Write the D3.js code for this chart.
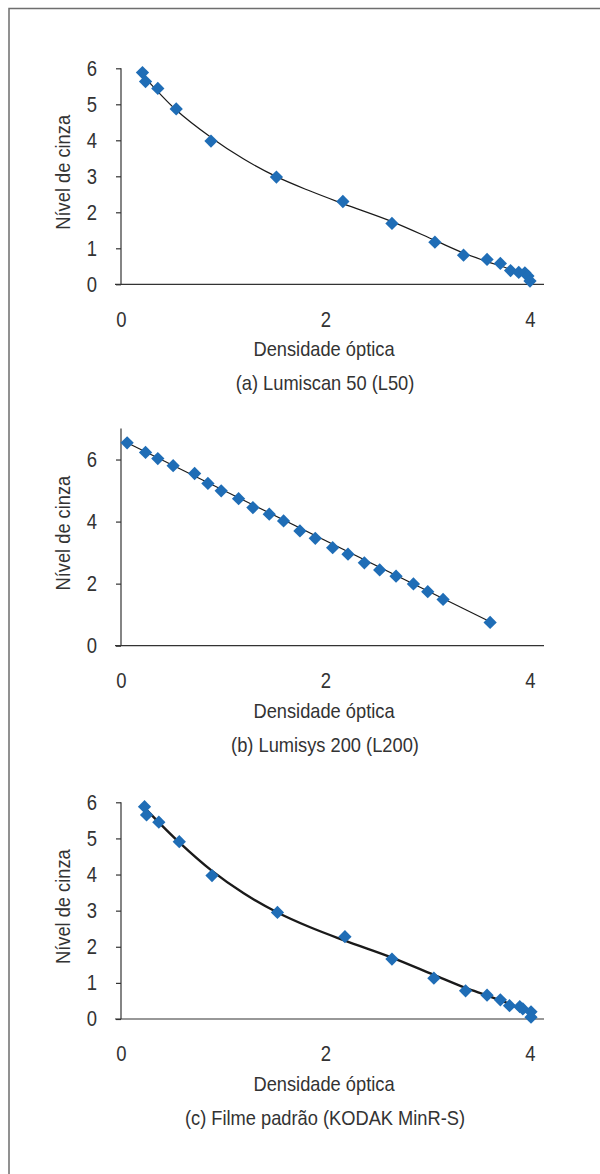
<!DOCTYPE html>
<html lang="pt">
<head>
<meta charset="UTF-8">
<title>Nível de cinza x Densidade óptica</title>
<script src="https://d3js.org/d3.v7.min.js"></script>
<style>
  body { margin: 0; background: #fff; }
  svg text { font-family: "Liberation Sans", Arial, sans-serif; fill: #333; }
  .tick text { font-size: 21.5px; }
  .titulo { font-size: 21px; }
</style>
</head>
<body>
<svg width="600" height="1174"></svg>
<script>
// (a) Lumiscan 50
const l50X = [0.21, 0.24, 0.36, 0.54, 0.88, 1.52, 2.17, 2.65, 3.07, 3.35, 3.58, 3.71, 3.81, 3.89, 3.95, 3.98, 4.0];
const l50Y = [5.88, 5.63, 5.44, 4.87, 3.98, 2.98, 2.30, 1.69, 1.17, 0.81, 0.69, 0.58, 0.38, 0.33, 0.32, 0.23, 0.09];
const l50FitX = [0.21, 0.54, 0.88, 1.2, 1.52, 1.85, 2.17, 2.65, 3.07, 3.35, 3.58, 3.8, 4.0];
const l50FitY = [5.82, 4.84, 4.08, 3.48, 2.99, 2.59, 2.24, 1.74, 1.22, 0.87, 0.63, 0.42, 0.16];

// (b) Lumisys 200
const l200X = [0.06, 0.24, 0.36, 0.51, 0.72, 0.85, 0.98, 1.15, 1.29, 1.45, 1.59, 1.75, 1.90, 2.07, 2.22, 2.38, 2.53, 2.69, 2.86, 3.00, 3.15, 3.61];
const l200Y = [6.54, 6.23, 6.03, 5.80, 5.55, 5.23, 4.99, 4.74, 4.45, 4.24, 4.02, 3.70, 3.46, 3.16, 2.95, 2.67, 2.44, 2.24, 1.99, 1.74, 1.49, 0.75];
const l200FitX = [0.06, 3.61];
const l200FitY = [6.54, 0.77];

// (c) Filme padrão
const minrX = [0.23, 0.25, 0.37, 0.57, 0.89, 1.53, 2.19, 2.65, 3.06, 3.37, 3.58, 3.71, 3.80, 3.90, 3.93, 4.01, 4.01];
const minrY = [5.88, 5.65, 5.45, 4.91, 3.97, 2.95, 2.28, 1.66, 1.13, 0.78, 0.66, 0.53, 0.37, 0.34, 0.28, 0.20, 0.05];
const minrFitX = [0.24, 0.57, 0.89, 1.2, 1.53, 1.85, 2.19, 2.65, 3.06, 3.37, 3.58, 3.8, 4.01];
const minrFitY = [5.82, 4.89, 4.10, 3.48, 2.95, 2.54, 2.17, 1.70, 1.22, 0.86, 0.65, 0.42, 0.15];

const xTicks = [0, 2, 4];

const paineis = [
  { xs: l50X, ys: l50Y, fx: l50FitX, fy: l50FitY, yMax: 6, yTicks: [0,1,2,3,4,5,6], top: 68.3, bottom: 284.3, lw: 1.2, legenda: "(a) Lumiscan 50 (L50)" },
  { xs: l200X, ys: l200Y, fx: l200FitX, fy: l200FitY, yMax: 7, yTicks: [0,2,4,6], top: 428.5, bottom: 645.7, lw: 1.2, legenda: "(b) Lumisys 200 (L200)" },
  { xs: minrX, ys: minrY, fx: minrFitX, fy: minrFitY, yMax: 6, yTicks: [0,1,2,3,4,5,6], top: 802.3, bottom: 1019, lw: 2.4, legenda: "(c) Filme padrão (KODAK MinR-S)" }
];

const svg = d3.select("svg");

// moldura (só topo e esquerda)
svg.append("path")
  .attr("d", "M9,1174 V8.5 H600")
  .attr("fill", "none")
  .attr("stroke", "#6e6e6e")
  .attr("stroke-width", 1.5);

const x = d3.scaleLinear().domain([0, 4]).range([121, 530]);
const marcador = d3.symbol().type(d3.symbolSquare).size(88);

// fonte estreita: comprime o texto na horizontal
function estreita(sel, k) {
  sel.each(function () {
    const t = d3.select(this);
    const tx = +t.attr("x") || 0, ty = +t.attr("y") || 0;
    const base = t.attr("transform") || "";
    t.attr("x", null).attr("y", null)
      .attr("transform", `${base} translate(${tx},${ty}) scale(${k},1)`);
  });
}

paineis.forEach(function (p) {
  const y = d3.scaleLinear().domain([0, p.yMax]).range([p.bottom, p.top]);
  const g = svg.append("g");

  // eixo y
  const ay = g.append("g")
    .attr("transform", "translate(121,0)")
    .call(d3.axisLeft(y).tickValues(p.yTicks).tickSize(5).tickPadding(19).tickFormat(d3.format("d")));
  ay.select(".domain").attr("stroke", "#333").attr("stroke-width", 1.2).attr("d", `M0,${p.bottom}V${p.top}`);
  ay.selectAll(".tick line").attr("stroke", "#333").attr("stroke-width", 1.2);
  estreita(ay.selectAll(".tick text"), 0.86);

  // eixo x
  const ax = g.append("g")
    .attr("transform", `translate(0,${p.bottom})`)
    .call(d3.axisBottom(x).tickValues(xTicks).tickSize(0).tickPadding(27).tickFormat(d3.format("d")));
  ax.select(".domain").attr("stroke", "#333").attr("stroke-width", 1.2).attr("d", "M115,0H544");
  estreita(ax.selectAll(".tick text"), 0.86);

  // curva de ajuste
  const fit = p.fx.map((v, i) => [v, p.fy[i]]);
  g.append("path")
    .datum(fit)
    .attr("fill", "none")
    .attr("stroke", "#1a1a1a")
    .attr("stroke-width", p.lw)
    .attr("d", d3.line().x(d => x(d[0])).y(d => y(d[1])).curve(d3.curveMonotoneX));

  // pontos
  g.selectAll(".pt")
    .data(p.xs.map((v, i) => [v, p.ys[i]]))
    .join("path")
    .attr("class", "pt")
    .attr("transform", d => `translate(${x(d[0])},${y(d[1])}) rotate(45)`)
    .attr("d", marcador)
    .attr("fill", "#1f6db6");

  // títulos
  const ty = g.append("text")
    .attr("class", "titulo")
    .attr("transform", `translate(70,${(p.top + p.bottom) / 2 - 4}) rotate(-90)`)
    .attr("text-anchor", "middle")
    .text("Nível de cinza");

  const tx = g.append("text")
    .attr("class", "titulo")
    .attr("x", 324).attr("y", p.bottom + 72)
    .attr("text-anchor", "middle")
    .text("Densidade óptica");

  const tl = g.append("text")
    .attr("class", "titulo")
    .attr("x", 325).attr("y", p.bottom + 106)
    .attr("text-anchor", "middle")
    .text(p.legenda);

  estreita(ty, 0.87);
  estreita(tx, 0.87);
  estreita(tl, 0.87);
});
</script>
</body>
</html>
